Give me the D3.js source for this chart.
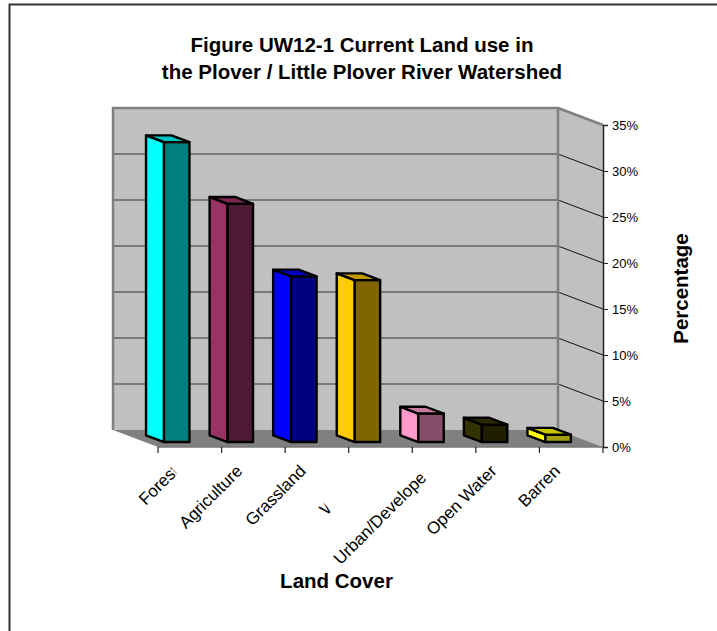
<!DOCTYPE html>
<html>
<head>
<meta charset="utf-8">
<script src="https://cdn.jsdelivr.net/npm/d3@7"></script>
<style>
  body { margin: 0; background: #fff; }
  svg { display: block; font-family: Arial, "Liberation Sans", sans-serif; }
</style>
</head>
<body>
<svg id="chart" width="717" height="631"></svg>
<script>
// Land cover shares (percent of watershed area)
const categories = ["Forest", "Agriculture", "Grassland", "Wetland", "Urban/Developed", "Open Water", "Barren"];
const landSharePct = [32.6, 25.9, 18.0, 17.6, 3.1, 1.9, 0.8];
const yTickValues = [0, 5, 10, 15, 20, 25, 30, 35];
const titleLines = ["Figure UW12-1 Current Land use in", "the Plover / Little Plover River Watershed"];

// Column face colours: lit side, front, top
const sideColors  = ["#00ffff", "#993366", "#0000ff", "#ffcc00", "#ff99cc", "#333300", "#ffff00"];
const frontColors = ["#008080", "#4d1a33", "#000080", "#806600", "#884d68", "#1f1f00", "#a0a000"];
const topColors   = ["#00c0c0", "#7a2850", "#0000c0", "#c09900", "#c87aa0", "#2a2a00", "#c8c800"];

// Amount of each axis label hidden at its end (px), where the label runs out of room
const labelCut = [3, 0, 0, 55, 11, 0, 0];

const svg = d3.select("#chart");

// Chart frame
svg.append("rect")
  .attr("x", 9.5).attr("y", 4.5).attr("width", 740).attr("height", 660)
  .attr("fill", "#fff").attr("stroke", "#333").attr("stroke-width", 2);

// Scales for the front plane; depth is added by an oblique projection
const x = d3.scaleBand().domain(categories).range([158, 603]).padding(0);
const y = d3.scaleLinear().domain([0, 35]).range([447, 125]);
const DX = 45, DY = 17;
const proj = (px, py, z) => [px - DX * z, py - DY * z];
const poly = pts => "M" + pts.map(p => p.join(",")).join("L") + "Z";

const [x0, x1] = x.range();
const yTop = y(35), yBase = y(0);

// Walls and floor
const walls = svg.append("g");
walls.append("path")
  .attr("d", poly([proj(x0, yTop, 1), proj(x1, yTop, 1), proj(x1, yBase, 1), proj(x0, yBase, 1)]))
  .attr("fill", "#c0c0c0");
walls.append("path")
  .attr("d", poly([proj(x1, yTop, 1), proj(x1, yTop, 0), proj(x1, yBase, 0), proj(x1, yBase, 1)]))
  .attr("fill", "#c0c0c0");
walls.append("path")
  .attr("d", poly([proj(x0, yBase, 1), proj(x1, yBase, 1), proj(x1, yBase, 0), proj(x0, yBase, 0)]))
  .attr("fill", "#808080");

// Gridlines on back wall and side wall
const grid = yTickValues.filter(v => v > 0 && v < 35);
walls.selectAll("line.gb").data(grid).join("line")
  .attr("x1", proj(x0, 0, 1)[0]).attr("x2", proj(x1, 0, 1)[0])
  .attr("y1", d => proj(0, y(d), 1)[1]).attr("y2", d => proj(0, y(d), 1)[1])
  .attr("stroke", "#333").attr("stroke-width", 1.2);
walls.selectAll("line.gs").data(grid).join("line")
  .attr("x1", proj(x1, 0, 1)[0]).attr("x2", x1)
  .attr("y1", d => proj(0, y(d), 1)[1]).attr("y2", d => y(d))
  .attr("stroke", "#111").attr("stroke-width", 1);

// Wall edges
const edge = { stroke: "#808080", "stroke-width": 2.5, fill: "none" };
const edgePath = d => {
  const p = walls.append("path").attr("d", d);
  Object.entries(edge).forEach(([k, v]) => p.attr(k, v));
};
edgePath("M" + proj(x0, yBase, 1).join(",") + "L" + proj(x0, yTop, 1).join(",") +
         "L" + proj(x1, yTop, 1).join(",") + "L" + proj(x1, yBase, 1).join(","));
edgePath("M" + proj(x1, yTop, 1).join(",") + "L" + proj(x1, yTop, 0).join(","));

// Value axis (front right edge)
const yAxisG = svg.append("g").attr("transform", `translate(${x1},0)`);
yAxisG.call(d3.axisRight(y).tickValues(yTickValues).tickSize(5).tickPadding(4).tickFormat(d => d + "%"));
yAxisG.select(".domain").attr("stroke", "#222").attr("stroke-width", 1.5);
yAxisG.selectAll(".tick line").attr("stroke", "#222");
yAxisG.selectAll(".tick text").attr("font-size", 13).attr("font-family", "Arial, 'Liberation Sans', sans-serif").attr("fill", "#000");

// Category axis (front floor edge) with ticks at category boundaries
svg.append("line")
  .attr("x1", x0).attr("x2", x1).attr("y1", yBase).attr("y2", yBase)
  .attr("stroke", "#777").attr("stroke-width", 1.5);
const boundaries = categories.map(c => x(c)).concat([x1]);
svg.selectAll("line.ct").data(boundaries).join("line")
  .attr("x1", d => d).attr("x2", d => d)
  .attr("y1", yBase).attr("y2", yBase + 6)
  .attr("stroke", "#222").attr("stroke-width", 1.2);

// Columns
const z0 = 0.29, z1 = 0.69;
const half = x.bandwidth() * 0.2;
const bars = svg.append("g")
  .attr("stroke", "#000").attr("stroke-width", 2.4).attr("stroke-linejoin", "round");
categories.forEach((c, i) => {
  const cx = x(c) + x.bandwidth() / 2;
  const xl = cx - half, xr = cx + half;
  const yv = y(landSharePct[i]);
  bars.append("path").attr("fill", sideColors[i])
    .attr("d", poly([proj(xl, yBase, z0), proj(xl, yBase, z1), proj(xl, yv, z1), proj(xl, yv, z0)]));
  bars.append("path").attr("fill", frontColors[i])
    .attr("d", poly([proj(xl, yv, z0), proj(xr, yv, z0), proj(xr, yBase, z0), proj(xl, yBase, z0)]));
  bars.append("path").attr("fill", topColors[i])
    .attr("d", poly([proj(xl, yv, z0), proj(xl, yv, z1), proj(xr, yv, z1), proj(xr, yv, z0)]));
});

// Category labels, rotated 45 degrees
const defs = svg.append("defs");
categories.forEach((c, i) => {
  const cx = x(c) + x.bandwidth() / 2;
  defs.append("clipPath").attr("id", "lab" + i)
    .append("rect").attr("x", -400).attr("y", -40).attr("width", 400 - labelCut[i]).attr("height", 80);
  svg.append("g")
    .attr("transform", `translate(${cx - 10},472) rotate(-45)`)
    .append("text")
    .attr("clip-path", `url(#lab${i})`)
    .attr("text-anchor", "end")
    .attr("font-size", 17)
    .attr("fill", "#000")
    .text(c);
});

// Titles
svg.append("text")
  .attr("x", 362).attr("text-anchor", "middle")
  .attr("font-size", 20.5).attr("font-weight", "bold")
  .selectAll("tspan").data(titleLines).join("tspan")
  .attr("x", 362).attr("y", (d, i) => 52 + i * 27)
  .text(d => d);

svg.append("text")
  .attr("transform", "translate(688,288.5) rotate(-90)")
  .attr("text-anchor", "middle")
  .attr("font-size", 20.5).attr("font-weight", "bold")
  .text("Percentage");

svg.append("text")
  .attr("x", 336.5).attr("y", 588)
  .attr("text-anchor", "middle")
  .attr("font-size", 20.5).attr("font-weight", "bold")
  .text("Land Cover");
</script>
</body>
</html>
